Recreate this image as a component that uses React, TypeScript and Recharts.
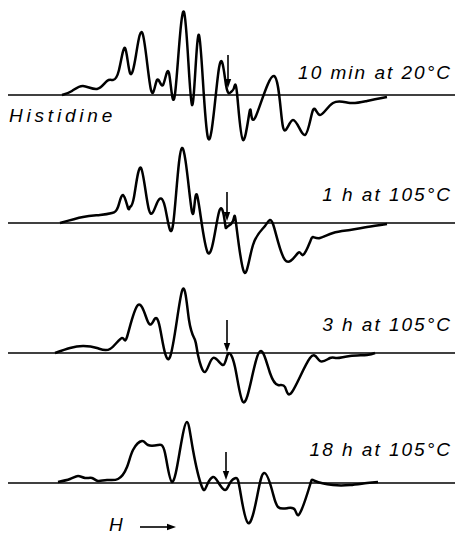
import { LineChart, Line, XAxis, YAxis, ReferenceLine } from "recharts";

// field position (arbitrary units across the sweep) and derivative signal for each spectrum
const field1 = [62, 72, 83, 97, 107, 113, 119, 125, 130, 136, 143, 151, 157, 163, 169, 175, 184, 192, 199, 208, 219, 226, 231, 234, 237, 243, 250, 255, 274, 283, 293, 305, 313, 320, 333, 350, 367, 387];
const signal1 = [0, 4, 9, 6, 14, 15, 25, 47, 22, 40, 60, 5, 15, 10, 22, 1, 83, -10, 60, -43, 27, 10, 3, 7, 2, -45, -15, -23, 19, -32, -25, -40, -15, -20, -8, -8, -6, -2];

const field2 = [60, 83, 100, 112, 118, 123, 128, 130, 134, 141, 149, 157, 165, 173, 182, 192, 197, 208, 219, 225, 227, 233, 236, 244, 253, 265, 273, 285, 298, 303, 310, 313, 320, 333, 350, 367, 387];
const signal2 = [0, 6, 8, 10, 16, 28, 15, 16, 26, 55, 13, 20, 16, -2, 75, 11, 28, -30, 11, 0, -4, 2, 0, -49, -22, -3, -1, -37, -30, -32, -19, -14, -15, -10, -7, -4, -1];

const field3 = [55, 70, 83, 97, 110, 122, 127, 138, 148, 154, 160, 170, 182, 189, 195, 198, 205, 213, 223, 228, 235, 243, 252, 261, 270, 278, 285, 292, 310, 320, 330, 337, 350, 367, 375];
const signal3 = [0, 5, 7, 5, 4, 15, 16, 48, 31, 33, 25, -4, 62, 33, 13, -2, -19, -5, -12, -1, -14, -49, -24, 2, -20, -32, -34, -39, -5, -8, -5, -5, -3, -2, 0];

const field4 = [58, 70, 78, 85, 92, 98, 107, 118, 127, 133, 142, 148, 158, 165, 172, 180, 187, 193, 202, 207, 213, 218, 225, 230, 236, 240, 248, 257, 264, 272, 278, 288, 295, 300, 310, 315, 333, 350, 367, 378];
const signal4 = [1, 4, 7, 5, 5, 2, 3, 4, 16, 33, 42, 38, 38, 30, 1, 33, 61, 33, -4, -2, 6, 1, -7, 0, 5, -7, -40, -14, 10, -7, -24, -25, -27, -30, -2, 2, -2, -2, 0, 1];

const labels = ["10 min at 20°C", "1 h at 105°C", "3 h at 105°C", "18 h at 105°C"];
// field position of the marked line
const markField = [228, 227, 227, 226];

const zip = (xs: number[], ys: number[]) => xs.map((x, i) => ({ field: x, signal: ys[i] }));

const traces = [
  { data: zip(field1, signal1), top: 0, height: 145, domain: [-50, 95], mark: [40, 7], labelY: 80 },
  { data: zip(field2, signal2), top: 130, height: 160, domain: [-67, 93], mark: [31, 2], labelY: 72 },
  { data: zip(field3, signal3), top: 270, height: 145, domain: [-62, 83], mark: [33, 1], labelY: 62 },
  { data: zip(field4, signal4), top: 395, height: 141, domain: [-53, 88], mark: [31, 3], labelY: 62 },
];

const font = "'Liberation Sans', Arial, sans-serif";

function Arrow(props: any) {
  const { x1, y1, x2, y2 } = props;
  const dx = x2 - x1, dy = y2 - y1;
  const len = Math.sqrt(dx * dx + dy * dy) || 1;
  const ux = dx / len, uy = dy / len;
  const hl = 9, hw = 3.2;
  const bx = x2 - ux * hl, by = y2 - uy * hl;
  const pts = `${x2},${y2} ${bx - uy * hw},${by + ux * hw} ${bx + uy * hw},${by - ux * hw}`;
  return (
    <g>
      <line x1={x1} y1={y1} x2={bx} y2={by} stroke="#000" strokeWidth={1.6} />
      <polygon points={pts} fill="#000" />
    </g>
  );
}

function Trace({ t, i }: { t: any; i: number }) {
  return (
    <div style={{ position: "absolute", left: 0, top: t.top }}>
      <LineChart width={461} height={t.height} data={t.data} margin={{ top: 0, right: 0, bottom: 0, left: 0 }}>
        <XAxis dataKey="field" type="number" domain={[0, 461]} hide />
        <YAxis type="number" domain={t.domain} allowDataOverflow hide />
        <ReferenceLine segment={[{ x: 8, y: 0 }, { x: 455, y: 0 }]} stroke="#000" strokeWidth={1.3} ifOverflow="visible" />
        <Line dataKey="signal" type="natural" stroke="#000" strokeWidth={2.5} strokeLinejoin="round" dot={false} activeDot={false} isAnimationActive={false} />
        <ReferenceLine
          segment={[{ x: markField[i], y: t.mark[0] }, { x: markField[i], y: t.mark[1] }]}
          ifOverflow="visible"
          shape={Arrow}
        />
        {i === 3 && (
          <ReferenceLine segment={[{ x: 140, y: -44 }, { x: 176, y: -44 }]} ifOverflow="visible" shape={Arrow} />
        )}
      </LineChart>
      <div style={{ position: "absolute", right: 9, top: t.labelY - 17, fontFamily: font, fontStyle: "italic", fontSize: 19, letterSpacing: 2, whiteSpace: "nowrap", lineHeight: "20px" }}>
        {labels[i]}
      </div>
    </div>
  );
}

export default function App() {
  return (
    <div style={{ position: "absolute", left: 0, top: 0, width: 461, height: 536, background: "#fff", overflow: "hidden" }}>
      {traces.map((t, i) => <Trace key={i} t={t} i={i} />)}
      <div style={{ position: "absolute", left: 9, top: 106, fontFamily: font, fontStyle: "italic", fontSize: 19, letterSpacing: 3.8, lineHeight: "20px" }}>Histidine</div>
      <div style={{ position: "absolute", left: 109, top: 515, fontFamily: font, fontStyle: "italic", fontSize: 19, lineHeight: "20px" }}>H</div>
    </div>
  );
}
